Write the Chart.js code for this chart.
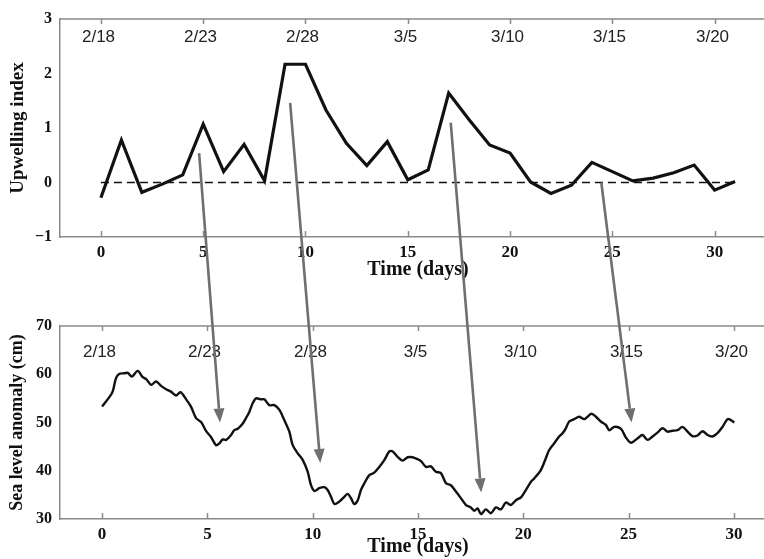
<!DOCTYPE html>
<html>
<head>
<meta charset="utf-8">
<script src="https://cdn.jsdelivr.net/npm/chart.js@4/dist/chart.umd.min.js"></script>
<style>
  html, body { margin: 0; padding: 0; background: #fff; overflow: hidden; }
  #wrap { position: relative; width: 764px; height: 559px; overflow: hidden; }
  canvas { position: absolute; left: 0; }
  #c1 { top: 0; }
  #c2 { top: 300px; }
  #ov { top: 0; pointer-events: none; }
</style>
</head>
<body>
<div id="wrap">
  <canvas id="c1" width="800" height="300"></canvas>
  <canvas id="c2" width="800" height="259"></canvas>
  <canvas id="ov" width="764" height="559"></canvas>
</div>
<script>
// ---------- data ----------
const dayTicks = [0, 5, 10, 15, 20, 25, 30];
const dateLabels = ['2/18', '2/23', '2/28', '3/5', '3/10', '3/15', '3/20'];

const upwellingDays = [0,1,2,3,4,5,6,7,8,9,10,11,12,13,14,15,16,17,18,19,20,21,22,23,24,25,26,27,28,29,30,31];
const upwellingIndex = [-0.28,0.78,-0.18,-0.03,0.14,1.07,0.2,0.7,0.03,2.17,2.17,1.33,0.72,0.31,0.75,0.05,0.23,1.64,1.15,0.69,0.54,0.01,-0.2,-0.05,0.37,0.2,0.03,0.08,0.18,0.32,-0.14,0.02];
const zeroLineDays = [0, 31];
const zeroLineValues = [0, 0];
const upwellingTicks = [-1, 0, 1, 2, 3];
const upwellingTickLabels = ['\u22121', '0', '1', '2', '3'];

const slaDays = [0.00,0.35,0.50,0.66,0.82,1.06,1.22,1.41,1.69,1.93,2.09,2.33,2.56,2.80,3.04,3.27,3.51,3.72,3.99,4.22,4.46,4.70,4.94,5.17,5.41,5.57,5.73,5.89,6.12,6.28,6.44,6.68,6.83,6.99,7.15,7.31,7.55,7.70,7.94,8.18,8.42,8.65,8.89,9.05,9.29,9.53,9.76,9.92,10.08,10.31,10.55,10.71,10.87,11.03,11.26,11.50,11.66,11.82,11.97,12.14,12.29,12.45,12.69,12.92,13.16,13.40,13.64,13.80,14.03,14.27,14.51,14.74,14.98,15.14,15.38,15.61,15.85,16.09,16.33,16.56,16.80,17.04,17.28,17.51,17.67,17.83,17.99,18.22,18.46,18.70,18.94,19.17,19.41,19.65,19.89,20.12,20.36,20.52,20.84,21.07,21.23,21.47,21.70,21.87,22.02,22.18,22.42,22.65,22.89,23.05,23.24,23.45,23.68,23.92,24.08,24.32,24.64,24.87,25.11,25.42,25.66,25.90,26.14,26.37,26.61,26.85,27.08,27.32,27.56,27.80,28.03,28.27,28.51,28.75,28.98,29.22,29.46,29.70,29.86,30.02];
const slaValues = [53.3,55.3,56.4,59.2,60.1,60.2,60.3,59.5,60.7,59.4,59.0,57.8,58.5,57.6,56.9,56.4,55.6,56.3,54.8,53.3,50.9,50.1,48.2,47.0,45.3,45.7,46.5,46.4,47.4,48.4,48.7,49.8,50.9,52.2,54.0,55.0,54.8,54.8,53.6,53.6,52.6,50.5,48.1,45.3,43.6,42.2,39.8,37.0,35.8,36.4,36.6,36.0,34.6,33.1,33.6,34.6,35.2,34.3,33.1,33.9,36.0,37.4,39.1,39.6,40.8,42.2,44.0,44.0,42.9,42.1,42.8,42.8,42.4,42.0,40.8,40.9,39.8,39.5,37.4,37.0,35.7,34.3,32.9,32.4,31.7,32.2,31.0,32.0,31.2,32.4,32.0,33.4,32.9,33.9,34.5,36.0,37.7,38.4,40.2,42.6,44.3,45.7,47.1,47.8,48.8,50.2,50.7,51.2,50.7,51.2,51.8,51.2,50.2,49.5,48.4,49.1,48.7,46.9,45.8,46.7,47.4,46.4,47.1,47.9,48.8,48.1,48.3,48.4,49.1,48.1,47.2,47.3,48.2,47.4,47.1,47.8,49.1,50.7,50.5,50.0];
const slaTicks = [30, 40, 50, 60, 70];
const slaTickLabels = ['30', '40', '50', '60', '70'];

// arrows: from (day, upwelling index) on top panel to (day, sea level) on bottom panel
const arrowFromDay   = [4.8, 9.25, 17.1, 24.46];
const arrowFromValue = [0.54, 1.46, 1.1, 0.0];
const arrowToDay     = [5.6, 10.36, 18.0, 25.14];
const arrowToValue   = [50.0, 41.6, 35.5, 50.0];

// ---------- styling ----------
const SERIF = '"Liberation Serif", "Times New Roman", "DejaVu Serif", serif';
const SANS = '"Liberation Sans", Arial, "DejaVu Sans", sans-serif';
const FRAME = '#8a8a8a';

const pts = (xs, ys) => xs.map((x, i) => ({ x: x, y: ys[i] }));

const framePlugin = {
  id: 'frame',
  afterDraw(chart) {
    const o = chart.options.plugins.frame;
    const { ctx, chartArea: a } = chart;
    const xs = chart.scales.x;
    ctx.save();
    ctx.strokeStyle = FRAME;
    ctx.lineWidth = 1.5;
    ctx.beginPath();
    ctx.moveTo(a.left, a.top);
    ctx.lineTo(a.right + 30, a.top);
    ctx.stroke();
    dayTicks.forEach((d, i) => {
      const px = Math.round(xs.getPixelForValue(d)) + 0.5;
      ctx.beginPath();
      ctx.moveTo(px, a.top);
      ctx.lineTo(px, a.top + 5);
      ctx.moveTo(px, a.bottom);
      ctx.lineTo(px, a.bottom - 6);
      ctx.stroke();
      ctx.fillStyle = '#222';
      ctx.font = '17px ' + SANS;
      ctx.textAlign = 'center';
      ctx.textBaseline = 'middle';
      ctx.fillText(dateLabels[i], px - 3, a.top + o.labelOffset);
    });
    ctx.restore();
  }
};

function axes(xMax, yMin, yMax, yTicks, yLabels, yTitle, yTitleSize, xAxisHeight) {
  return {
    x: {
      type: 'linear', min: -2, max: xMax,
      afterBuildTicks: s => { s.ticks = dayTicks.map(v => ({ value: v })); },
      afterFit: s => { s.height = xAxisHeight; },
      grid: { display: false, drawTicks: false },
      border: { display: true, color: FRAME, width: 1.5 },
      ticks: { padding: 5, color: '#111', font: { family: SERIF, size: 17, weight: 'bold' }, maxRotation: 0 },
      title: { display: true, text: 'Time (days)', color: '#111', padding: { top: 0, bottom: 0 },
               font: { family: SERIF, size: 20, weight: 'bold' } }
    },
    y: {
      type: 'linear', min: yMin, max: yMax,
      afterBuildTicks: s => { s.ticks = yTicks.map(v => ({ value: v })); },
      afterFit: s => { s.width = 60; },
      grid: { display: false, drawTicks: false },
      border: { display: true, color: FRAME, width: 1.5 },
      ticks: { padding: 8, color: '#111', font: { family: SERIF, size: 16, weight: 'bold' },
               callback: v => yLabels[yTicks.indexOf(v)] },
      title: { display: true, text: yTitle, color: '#111', padding: { top: 7, bottom: 0 },
               font: { family: SERIF, size: yTitleSize, weight: 'bold' } }
    }
  };
}

const common = {
  responsive: false,
  animation: false,
  events: [],
  plugins: { legend: { display: false }, tooltip: { enabled: false } }
};

const chart1 = new Chart(document.getElementById('c1'), {
  type: 'line',
  data: {
    datasets: [
      { data: pts(upwellingDays, upwellingIndex), borderColor: '#111', borderWidth: 3.2,
        pointRadius: 0, tension: 0, borderJoinStyle: 'miter' },
      { data: pts(zeroLineDays, zeroLineValues), borderColor: '#111', borderWidth: 1.6,
        borderDash: [8, 5], pointRadius: 0 }
    ]
  },
  options: Object.assign({}, common, {
    layout: { padding: { left: 0, top: 19, right: 24, bottom: 18 } },
    scales: axes(33, -1, 3, upwellingTicks, upwellingTickLabels, 'Upwelling index', 19, 45),
    plugins: Object.assign({}, common.plugins, { frame: { labelOffset: 18.5 } })
  }),
  plugins: [framePlugin]
});

const chart2 = new Chart(document.getElementById('c2'), {
  type: 'line',
  data: {
    datasets: [
      { data: pts(slaDays, slaValues), borderColor: '#111', borderWidth: 2.4,
        pointRadius: 0, tension: 0.3 }
    ]
  },
  options: Object.assign({}, common, {
    layout: { padding: { left: 0, top: 26, right: 24, bottom: 0 } },
    scales: axes(32, 30, 70, slaTicks, slaTickLabels, 'Sea level anomaly (cm)', 18, 40),
    plugins: Object.assign({}, common.plugins, { frame: { labelOffset: 26 } })
  }),
  plugins: [framePlugin]
});

// ---------- arrows overlay ----------
(function drawArrows() {
  const ov = document.getElementById('ov');
  const ctx = ov.getContext('2d');
  const off2 = 300;
  ctx.strokeStyle = '#6f6f6f';
  ctx.fillStyle = '#6f6f6f';
  ctx.lineWidth = 2.6;
  arrowFromDay.forEach((d, i) => {
    const x0 = chart1.scales.x.getPixelForValue(d);
    const y0 = chart1.scales.y.getPixelForValue(arrowFromValue[i]);
    const x1 = chart2.scales.x.getPixelForValue(arrowToDay[i]);
    const y1 = chart2.scales.y.getPixelForValue(arrowToValue[i]) + off2;
    const ang = Math.atan2(y1 - y0, x1 - x0);
    const headLen = 14, headW = 5.5;
    const bx = x1 - headLen * Math.cos(ang), by = y1 - headLen * Math.sin(ang);
    ctx.beginPath();
    ctx.moveTo(x0, y0);
    ctx.lineTo(bx, by);
    ctx.stroke();
    ctx.beginPath();
    ctx.moveTo(x1, y1);
    ctx.lineTo(bx + headW * Math.sin(ang), by - headW * Math.cos(ang));
    ctx.lineTo(bx - headW * Math.sin(ang), by + headW * Math.cos(ang));
    ctx.closePath();
    ctx.fill();
  });
})();
</script>
</body>
</html>
